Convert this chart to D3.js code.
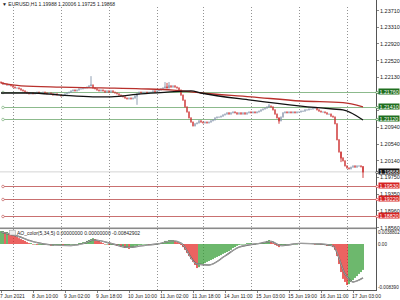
<!DOCTYPE html>
<html><head><meta charset="utf-8">
<script src="https://cdn.jsdelivr.net/npm/d3@7"></script>
<style>body{margin:0;background:#fff}svg{display:block}text{font-family:"Liberation Sans",Arial,sans-serif}</style>
</head><body><svg id="c" width="400" height="300"></svg>
<script>
// ---- data (EURUSD H1, bar index 0 = 7 Jun 18:00) ----
const firstOpen = 1.2200;
const closes = [
1.2198,1.2195,1.2195,1.2193,1.2193,1.2191,
1.2188,1.2186,1.2186,1.2184,1.2181,1.2179,1.2176,1.2174,1.2172,1.2174,1.2172,1.2174,1.2176,1.2174,1.2174,1.2176,1.2174,1.2172,1.2174,1.2172,1.2169,1.2172,1.2169,1.2169,
1.2167,1.2169,1.2172,1.2174,1.2176,1.2179,1.2181,1.2179,1.2181,1.2184,1.2184,1.2186,1.2186,1.2188,1.2191,1.2193,1.2186,1.2184,1.2181,1.2179,1.2181,1.2179,1.2176,1.2179,
1.2176,1.2179,1.2176,1.2174,1.2172,1.2169,1.2167,1.2165,1.2162,1.2160,1.2162,1.2160,1.2162,1.2167,1.2172,1.2176,1.2174,1.2176,1.2176,1.2174,1.2176,1.2176,1.2179,1.2176,
1.2179,1.2181,1.2184,1.2186,1.2188,1.2186,1.2191,1.2188,1.2191,1.2188,1.2186,1.2181,1.2169,1.2157,1.2141,1.2129,1.2115,1.2105,1.2096,1.2101,1.2103,1.2108,1.2105,
1.2103,1.2105,1.2103,1.2105,1.2108,1.2110,1.2115,1.2117,1.2117,1.2119,1.2122,1.2124,1.2127,1.2124,1.2127,1.2129,1.2127,1.2124,1.2127,1.2124,1.2127,1.2124,1.2127,1.2129,
1.2127,1.2129,1.2127,1.2129,1.2131,1.2134,1.2136,1.2138,1.2141,1.2143,1.2141,1.2134,1.2124,1.2115,1.2108,1.2117,1.2127,1.2129,1.2127,1.2129,1.2127,1.2129,1.2127,1.2129,
1.2129,1.2131,1.2131,1.2134,1.2134,1.2136,1.2136,1.2138,1.2138,1.2134,1.2131,1.2129,1.2129,1.2127,1.2124,1.2124,1.2119,1.2117,1.2101,1.2063,1.2034,1.2020,1.2013,1.2001,
1.1996,1.1994,1.1998,1.2001,1.1998,1.2001,1.2001,1.19988,1.19868
];
const wickHighs = [[45,1.2214],[82,1.2200],[83,1.2198],[84,1.2200],[134,1.2148],[181,1.20006]];
const wickLows = [[68,1.2146],[139,1.2101],[170,1.2010],[181,1.19725]];
const maSlow = [[0,1.2198],[10,1.2191],[30,1.2188],[50,1.2186],[70,1.2184],[86,1.2181],[100,1.2174],[125,1.2165],[150,1.2155],[171,1.2151],[181,1.2141]];
const maFast = [[0,1.2174],[15,1.2174],[30,1.2169],[46,1.2165],[55,1.2165],[70,1.2172],[83,1.2176],[95,1.2179],[100,1.2174],[125,1.2157],[150,1.2143],[166,1.2136],[171,1.2134],[181,1.2110]];
const levelsGreen = [1.21760, 1.21410, 1.21120];
const levelsRed = [1.19530, 1.19220, 1.18820];
const bidPrice = 1.19868;
const priceTicks = [1.23710,1.23310,1.22920,1.22520,1.22130,1.21730,1.21340,1.20940,1.20540,1.20140,1.19750,1.19350,1.18960,1.18560];
const osc = [
0.0042,0.0042,0.0039,
0.0039,0.0036,0.0032,0.0029,0.0026,0.0023,0.0019,0.0016,0.0013,0.0010,0.0006,0.0003,0.0003,0,0,
-0.0003,-0.0003,-0.0003,-0.0003,-0.0003,-0.0003,-0.0003,-0.0006,-0.0006,-0.0003,-0.0003,-0.0003,-0.0003,
-0.0006,-0.0006,-0.0003,-0.0003,0,0,0,0,
0.0003,0.0003,0.0006,0.0006,
0.0010,0.0013,0.0016,0.0019,
0.0016,0.0013,0.0010,0.0006,0.0003,
0,0,-0.0003,-0.0003,-0.0003,
-0.0003,-0.0006,-0.0006,-0.0010,-0.0010,-0.0013,-0.0013,-0.0016,
-0.0013,-0.0010,-0.0006,-0.0006,-0.0003,-0.0003,
0,0,0,-0.0003,-0.0003,0,0,0,0.0003,0.0003,
0.0006,0.0010,0.0010,0.0013,0.0013,0.0013,
0.0010,0.0006,0.0003,
-0.0003,-0.0010,-0.0019,-0.0029,-0.0039,-0.0049,-0.0058,-0.0068,-0.0078,
-0.0075,-0.0068,-0.0065,-0.0062,-0.0058,-0.0055,-0.0052,-0.0049,-0.0045,-0.0042,-0.0039,-0.0036,-0.0032,-0.0029,-0.0026,-0.0023,-0.0019,-0.0013,-0.0010,-0.0006,-0.0003,
0,0,0,0.0003,0.0003,0.0003,0,0,0.0003,0.0003,0.0003,0.0006,0.0006,
0.0010,0.0013,0.0010,
0.0003,-0.0003,-0.0006,-0.0010,-0.0006,
-0.0003,-0.0003,0,0,0,0,0,0,0.0003,0.0003,
0.0003,0.0003,0.0003,0.0003,0.0003,0.0003,0,0,0,-0.0003,
-0.0003,-0.0003,-0.0006,-0.0006,-0.0006,-0.0010,
-0.0019,-0.0039,-0.0065,-0.0091,-0.0113,-0.0123,
-0.0133,-0.0130,-0.0123,-0.0117,-0.0110,-0.0104,-0.0097,-0.0091,-0.0084
];
const signal = [[0,0.0039],[8,0.0026],[17,0.0006],[25,-0.0003],[35,-0.0005],[42,0.0003],[46,0.0013],[50,0.0010],[56,0],[64,-0.0011],[70,-0.0006],[78,0],[86,0.0010],[90,0.0003],[98,-0.0065],[104,-0.0068],[112,-0.0039],[119,-0.0010],[130,0.0003],[135,0.0008],[140,-0.0005],[150,0.0002],[160,0],[166,-0.0006],[172,-0.0097],[176,-0.0123],[181,-0.0110]];
const oscTicks = [[0.00388,"0.0038802"],[0,"0.00"],[-0.0139,"-0.008390"]];
const timeTicks = [[0,"7 Jun 2021"],[16,"8 Jun 10:00"],[32,"9 Jun 02:00"],[48,"9 Jun 18:00"],[64,"10 Jun 10:00"],[80,"11 Jun 02:00"],[96,"11 Jun 18:00"],[112,"14 Jun 11:00"],[128,"15 Jun 03:00"],[144,"15 Jun 19:00"],[160,"16 Jun 11:00"],[176,"17 Jun 03:00"]];
const dayStarts = [6,30,54,78,101,125,149,173];
const titleMain = "\u25BC EURUSD,H1  1.19988 1.20006 1.19725 1.19868";
const titleOsc = "AO_color(5,34,5) 0.00000000 0.00000000 -0.00842902";

// ---- layout ----
const svg = d3.select("#c");
const RIGHT = 376;
const x = d3.scaleLinear().domain([0, 181]).range([1, 363]);
const y = d3.scaleLinear().domain([1.18560, 1.23710]).range([227, 10]);
const yo = d3.scaleLinear().domain([-0.01427, 0.00454]).range([288, 230]);
const bull = "#8595ab", bear = "#cc2b2b", oscUp = "#2f9a2f", oscDn = "#e3221e";

// grid
svg.append("g").selectAll("line").data(dayStarts).join("line")
  .attr("x1", d => x(d) + 0.5).attr("x2", d => x(d) + 0.5).attr("y1", 7).attr("y2", 290)
  .attr("stroke", "#777").attr("stroke-width", 0.8).attr("stroke-dasharray", "1,2");

// bid line
svg.append("line").attr("x1", 0).attr("x2", RIGHT).attr("y1", y(bidPrice)).attr("y2", y(bidPrice))
  .attr("stroke", "#c8c8c8").attr("stroke-width", 0.8);

// levels
function levels(arr, col) {
  const g = svg.append("g");
  g.selectAll("line").data(arr).join("line")
    .attr("x1", 3).attr("x2", RIGHT + 2).attr("y1", d => Math.round(y(d)) + 0.5).attr("y2", d => Math.round(y(d)) + 0.5)
    .attr("stroke", col).attr("stroke-width", 0.8);
  g.selectAll("circle.l").data(arr).join("circle").attr("class", "l")
    .attr("cx", 3).attr("cy", d => Math.round(y(d)) + 0.5).attr("r", 1.3)
    .attr("fill", "#fff").attr("stroke", col).attr("stroke-width", 0.6);
}
levels(levelsGreen, "#6fa86f");
levels(levelsRed, "#bb4b4b");

// candles
const candles = closes.map((c, i) => ({ i, o: i ? closes[i - 1] : firstOpen, c }));
const hiMap = new Map(wickHighs), loMap = new Map(wickLows);
const cg = svg.append("g");
cg.selectAll("line").data(candles.filter(d => hiMap.has(d.i) || loMap.has(d.i))).join("line")
  .attr("x1", d => x(d.i)).attr("x2", d => x(d.i))
  .attr("y1", d => y(hiMap.has(d.i) ? hiMap.get(d.i) : Math.max(d.o, d.c)))
  .attr("y2", d => y(loMap.has(d.i) ? loMap.get(d.i) : Math.min(d.o, d.c)))
  .attr("stroke", d => d.c >= d.o ? bull : bear).attr("stroke-width", 0.9);
cg.selectAll("rect").data(candles).join("rect")
  .attr("x", d => x(d.i) - 0.7).attr("width", 1.4)
  .attr("y", d => y(Math.max(d.o, d.c)) - 0.5)
  .attr("height", d => Math.max(1.2, y(Math.min(d.o, d.c)) - y(Math.max(d.o, d.c)) + 1))
  .attr("fill", d => d.c >= d.o ? bull : bear);

// moving averages
const line = d3.line().x(d => x(d[0])).y(d => y(d[1])).curve(d3.curveMonotoneX);
svg.append("path").attr("d", line(maSlow)).attr("fill", "none").attr("stroke", "#b8302c").attr("stroke-width", 1.3);
svg.append("path").attr("d", line(maFast)).attr("fill", "none").attr("stroke", "#111").attr("stroke-width", 1.3);

// oscillator
const og = svg.append("g");
og.selectAll("rect").data(osc).join("rect")
  .attr("x", (d, i) => x(i) - 0.7).attr("width", 1.4)
  .attr("y", d => yo(Math.max(0, d)))
  .attr("height", d => Math.max(0.6, Math.abs(yo(d) - yo(0))))
  .attr("fill", (d, i) => (i === 0 || d >= osc[i - 1]) ? oscUp : oscDn);
const sline = d3.line().x(d => x(d[0])).y(d => yo(d[1])).curve(d3.curveMonotoneX);
svg.append("path").attr("d", sline(signal)).attr("fill", "none").attr("stroke", "#555").attr("stroke-width", 1.4);
svg.append("path").attr("d", sline(signal)).attr("fill", "none").attr("stroke", "#eee").attr("stroke-width", 0.5);

// frames
svg.append("rect").attr("x", 0).attr("y", 227.5).attr("width", RIGHT).attr("height", 1.6).attr("fill", "#8a8a8a");
svg.append("line").attr("x1", 0).attr("x2", RIGHT).attr("y1", 290.5).attr("y2", 290.5).attr("stroke", "#555").attr("stroke-width", 1);
svg.append("line").attr("x1", RIGHT + 0.5).attr("x2", RIGHT + 0.5).attr("y1", 0).attr("y2", 291).attr("stroke", "#555").attr("stroke-width", 1);

// price axis (labels hidden where a level tag covers them)
const tagYs = levelsGreen.concat(levelsRed).map(v => y(v));
const shownTicks = priceTicks.filter(t => tagYs.every(ty => Math.abs(y(t) - ty) > 4.5));
const ag = svg.append("g").attr("font-size", 5.5).attr("fill", "#222");
ag.selectAll("line").data(priceTicks).join("line")
  .attr("x1", RIGHT).attr("x2", RIGHT + 3).attr("y1", d => Math.round(y(d)) + 0.5).attr("y2", d => Math.round(y(d)) + 0.5)
  .attr("stroke", "#555").attr("stroke-width", 0.7);
ag.selectAll("text").data(shownTicks).join("text")
  .attr("x", 380).attr("y", d => y(d) + 2.6).text(d => d.toFixed(5));

function tag(v, bg) {
  const yy = Math.round(y(v));
  svg.append("circle").attr("cx", RIGHT + 1).attr("cy", yy + 0.5).attr("r", 1.2).attr("fill", "#fff").attr("stroke", bg).attr("stroke-width", 0.6);
  svg.append("rect").attr("x", 378.5).attr("y", yy - 3.5).attr("width", 21).attr("height", 6).attr("fill", bg);
  svg.append("text").attr("x", 379.5).attr("y", yy + 1.8).attr("font-size", 5.3).attr("fill", "#fff").text(v.toFixed(5));
}
levelsGreen.forEach(v => tag(v, "#1f6f1f"));
levelsRed.forEach(v => tag(v, "#d62222"));
tag(bidPrice, "#111");

// osc axis
const oa = svg.append("g").attr("font-size", 4.6).attr("fill", "#222");
oa.selectAll("text").data(oscTicks).join("text")
  .attr("x", 378).attr("y", d => yo(d[0]) + 2).text(d => d[1]);

// time axis
const ta = svg.append("g").attr("font-size", 5).attr("fill", "#222");
ta.selectAll("line").data(timeTicks).join("line")
  .attr("x1", d => x(d[0]) + 0.5).attr("x2", d => x(d[0]) + 0.5).attr("y1", 290).attr("y2", 293)
  .attr("stroke", "#555").attr("stroke-width", 0.7);
ta.selectAll("text").data(timeTicks).join("text")
  .attr("x", d => Math.max(0, x(d[0]) - 1)).attr("y", 297.5).text(d => d[1]);

// titles
svg.append("text").attr("x", 2).attr("y", 6).attr("font-size", 5).attr("fill", "#222").text(titleMain);
svg.append("rect").attr("x", 9.5).attr("y", 230.5).attr("width", 6).attr("height", 4.5).attr("fill", "#eee").attr("stroke", "#999").attr("stroke-width", 0.5);
svg.append("text").attr("x", 17).attr("y", 234.5).attr("font-size", 5).attr("fill", "#222").text(titleOsc);
</script></body></html>
